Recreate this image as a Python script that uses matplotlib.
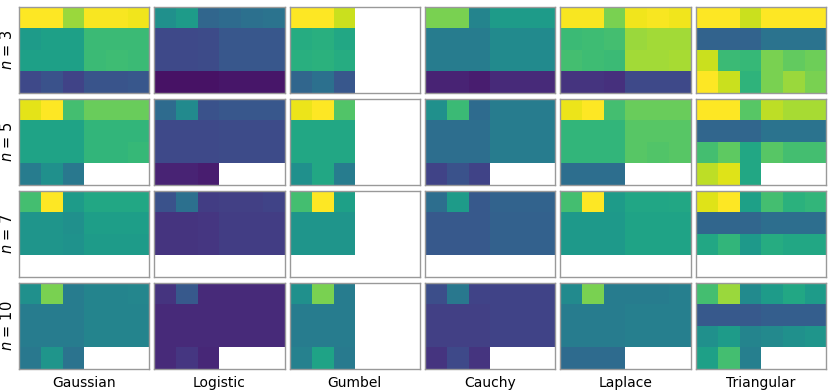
import numpy as np
import matplotlib
matplotlib.use("Agg")
import matplotlib.pyplot as plt

nan = np.nan

# valores normalizados (0..1), una rejilla 4x6 por n
n_values = [3, 5, 7, 10]
distributions = ["Gaussian", "Logistic", "Gumbel", "Cauchy", "Laplace", "Triangular"]

gaussian = [
    [[1.00, 1.00, 0.85, 0.99, 0.99, 0.98],
     [0.55, 0.57, 0.57, 0.68, 0.68, 0.68],
     [0.57, 0.57, 0.57, 0.68, 0.69, 0.68],
     [0.22, 0.25, 0.20, 0.26, 0.26, 0.27]],
    [[0.96, 1.00, 0.70, 0.77, 0.77, 0.77],
     [0.58, 0.58, 0.58, 0.66, 0.66, 0.66],
     [0.58, 0.58, 0.58, 0.66, 0.66, 0.67],
     [0.42, 0.50, 0.40, nan, nan, nan]],
    [[0.70, 1.00, 0.55, 0.60, 0.60, 0.60],
     [0.52, 0.52, 0.50, 0.56, 0.56, 0.56],
     [0.52, 0.52, 0.51, 0.55, 0.55, 0.55],
     [nan, nan, nan, nan, nan, nan]],
    [[0.50, 0.80, 0.42, 0.45, 0.45, 0.46],
     [0.42, 0.42, 0.42, 0.45, 0.45, 0.45],
     [0.42, 0.42, 0.42, 0.45, 0.45, 0.45],
     [0.40, 0.52, 0.38, nan, nan, nan]],
]

logistic = [
    [[0.50, 0.55, 0.33, 0.35, 0.37, 0.38],
     [0.22, 0.22, 0.23, 0.27, 0.27, 0.27],
     [0.22, 0.22, 0.23, 0.27, 0.27, 0.27],
     [0.05, 0.05, 0.05, 0.06, 0.06, 0.06]],
    [[0.35, 0.48, 0.25, 0.27, 0.27, 0.27],
     [0.22, 0.22, 0.22, 0.23, 0.23, 0.23],
     [0.22, 0.22, 0.22, 0.23, 0.23, 0.23],
     [0.10, 0.10, 0.08, nan, nan, nan]],
    [[0.25, 0.37, 0.18, 0.19, 0.19, 0.20],
     [0.15, 0.15, 0.16, 0.18, 0.18, 0.18],
     [0.15, 0.15, 0.16, 0.18, 0.18, 0.18],
     [nan, nan, nan, nan, nan, nan]],
    [[0.15, 0.28, 0.12, 0.12, 0.12, 0.12],
     [0.12, 0.12, 0.12, 0.12, 0.12, 0.12],
     [0.12, 0.12, 0.12, 0.12, 0.12, 0.12],
     [0.12, 0.16, 0.11, nan, nan, nan]],
]

gumbel = [
    [[1.00, 1.00, 0.92, nan, nan, nan],
     [0.62, 0.63, 0.60, nan, nan, nan],
     [0.63, 0.64, 0.62, nan, nan, nan],
     [0.33, 0.37, 0.27, nan, nan, nan]],
    [[0.97, 1.00, 0.73, nan, nan, nan],
     [0.60, 0.60, 0.60, nan, nan, nan],
     [0.60, 0.60, 0.60, nan, nan, nan],
     [0.50, 0.60, 0.42, nan, nan, nan]],
    [[0.70, 1.00, 0.57, nan, nan, nan],
     [0.52, 0.52, 0.52, nan, nan, nan],
     [0.52, 0.52, 0.52, nan, nan, nan],
     [nan, nan, nan, nan, nan, nan]],
    [[0.50, 0.80, 0.42, nan, nan, nan],
     [0.42, 0.42, 0.42, nan, nan, nan],
     [0.42, 0.42, 0.42, nan, nan, nan],
     [0.44, 0.58, 0.41, nan, nan, nan]],
]

cauchy = [
    [[0.80, 0.80, 0.45, 0.55, 0.55, 0.55],
     [0.42, 0.42, 0.42, 0.48, 0.48, 0.48],
     [0.42, 0.42, 0.42, 0.48, 0.48, 0.48],
     [0.10, 0.10, 0.08, 0.12, 0.12, 0.12]],
    [[0.50, 0.68, 0.35, 0.42, 0.42, 0.42],
     [0.36, 0.36, 0.36, 0.42, 0.42, 0.42],
     [0.36, 0.36, 0.36, 0.42, 0.42, 0.42],
     [0.20, 0.25, 0.20, nan, nan, nan]],
    [[0.36, 0.55, 0.28, 0.32, 0.32, 0.32],
     [0.28, 0.28, 0.28, 0.31, 0.31, 0.31],
     [0.28, 0.28, 0.28, 0.31, 0.31, 0.31],
     [nan, nan, nan, nan, nan, nan]],
    [[0.24, 0.40, 0.20, 0.20, 0.20, 0.20],
     [0.19, 0.19, 0.19, 0.20, 0.20, 0.20],
     [0.19, 0.19, 0.19, 0.20, 0.20, 0.20],
     [0.15, 0.22, 0.15, nan, nan, nan]],
]

laplace = [
    [[0.99, 0.99, 0.80, 0.98, 0.99, 0.98],
     [0.68, 0.69, 0.70, 0.85, 0.86, 0.86],
     [0.70, 0.69, 0.68, 0.86, 0.86, 0.87],
     [0.15, 0.15, 0.14, 0.22, 0.22, 0.22]],
    [[0.97, 1.00, 0.70, 0.77, 0.77, 0.77],
     [0.66, 0.66, 0.66, 0.74, 0.74, 0.74],
     [0.66, 0.66, 0.66, 0.74, 0.73, 0.74],
     [0.36, 0.36, 0.36, nan, nan, nan]],
    [[0.70, 1.00, 0.55, 0.59, 0.59, 0.60],
     [0.54, 0.54, 0.54, 0.58, 0.58, 0.58],
     [0.54, 0.54, 0.54, 0.58, 0.58, 0.58],
     [nan, nan, nan, nan, nan, nan]],
    [[0.48, 0.80, 0.42, 0.42, 0.42, 0.43],
     [0.42, 0.42, 0.42, 0.43, 0.43, 0.43],
     [0.42, 0.42, 0.42, 0.43, 0.43, 0.43],
     [0.35, 0.35, 0.35, nan, nan, nan]],
]

triangular = [
    [[1.00, 1.00, 0.92, 1.00, 1.00, 1.00],
     [0.32, 0.32, 0.32, 0.38, 0.38, 0.38],
     [0.92, 0.68, 0.67, 0.80, 0.76, 0.78],
     [1.00, 0.92, 0.65, 0.80, 0.85, 0.80]],
    [[1.00, 1.00, 0.74, 0.90, 0.87, 0.87],
     [0.33, 0.33, 0.33, 0.38, 0.38, 0.38],
     [0.70, 0.75, 0.60, 0.74, 0.70, 0.70],
     [0.90, 0.95, 0.60, nan, nan, nan]],
    [[0.95, 1.00, 0.57, 0.70, 0.64, 0.66],
     [0.33, 0.33, 0.33, 0.36, 0.36, 0.36],
     [0.60, 0.66, 0.54, 0.62, 0.60, 0.60],
     [nan, nan, nan, nan, nan, nan]],
    [[0.70, 0.85, 0.48, 0.55, 0.60, 0.55],
     [0.28, 0.28, 0.28, 0.30, 0.30, 0.30],
     [0.50, 0.55, 0.45, 0.47, 0.50, 0.52],
     [0.57, 0.70, 0.43, nan, nan, nan]],
]

datos = [gaussian, logistic, gumbel, cauchy, laplace, triangular]

fig, axes = plt.subplots(len(n_values), len(distributions), figsize=(8.3, 3.92), dpi=100)
fig.subplots_adjust(left=0.023, right=0.995, top=0.982, bottom=0.059,
                    wspace=0.038, hspace=0.07)

cmap = plt.get_cmap("viridis").copy()
cmap.set_bad("white")

for i, n in enumerate(n_values):
    for j, nombre in enumerate(distributions):
        ax = axes[i, j]
        grid = np.array(datos[j][i], dtype=float)
        ax.imshow(np.ma.masked_invalid(grid), cmap=cmap, vmin=0, vmax=1,
                  aspect="auto", interpolation="nearest")
        ax.set_xticks([])
        ax.set_yticks([])
        for s in ax.spines.values():
            s.set_color("#999999")
            s.set_linewidth(1.0)
        if j == 0:
            ax.set_ylabel(f"$n$ = {n}", fontsize=10.5, labelpad=3)
        if i == len(n_values) - 1:
            ax.set_xlabel(nombre, fontsize=10, labelpad=5)

fig.savefig("out.png", dpi=100)
